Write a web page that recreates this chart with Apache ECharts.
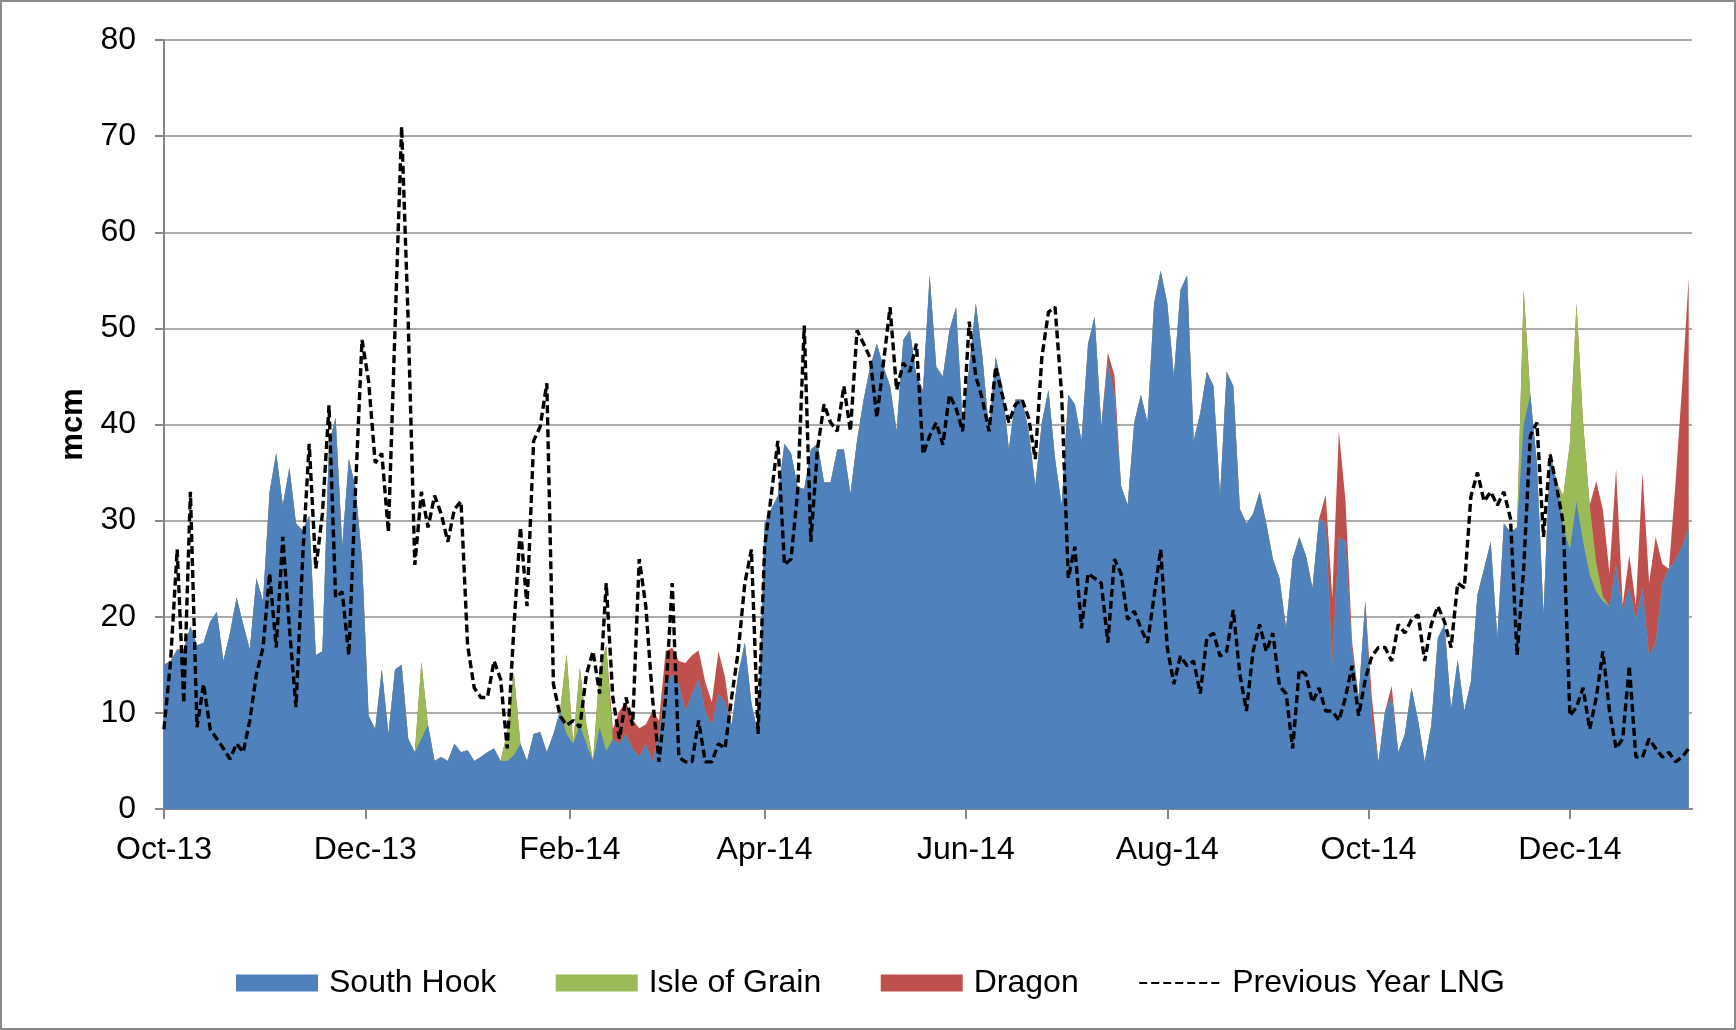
<!DOCTYPE html>
<html>
<head>
<meta charset="utf-8">
<title>LNG terminals - daily flows</title>
<script src="https://cdn.jsdelivr.net/npm/echarts@6/dist/echarts.min.js"></script>
<style>
  html, body { margin: 0; padding: 0; background: #fff; }
  #chart { width: 1736px; height: 1030px; }
</style>
</head>
<body>
<div id="chart"></div>
<script>
// one reading every 2 days, day 0 = 1 Oct 2013
const dayStep = 2;
const tickDays = [0, 61, 123, 182, 243, 304, 365, 426];
const tickLabels = ['Oct-13', 'Dec-13', 'Feb-14', 'Apr-14', 'Jun-14', 'Aug-14', 'Oct-14', 'Dec-14'];

const southHook = [
  15, 15.4, 16.6, 16.6, 19, 17, 17.3, 19.5, 20.5, 15.4,
  18.3, 22, 19.2, 16.6, 24, 21.6, 33, 37, 31.6, 35.5,
  29.7, 29, 30.5, 16, 16.4, 38, 40.7, 27.3, 36.4, 33.5,
  26, 9.7, 8.3, 14.5, 7.8, 14.5, 15, 7.3, 5.9, 7.3,
  8.7, 5, 5.4, 5, 6.8, 5.9, 6.1, 5, 5.4, 5.9,
  6.3, 5, 5, 5.6, 6.8, 5, 7.8, 8, 5.9, 7.8,
  10.2, 7.8, 6.8, 8.7, 6.8, 5, 8.5, 6, 7.3, 6.8,
  7.8, 6.3, 5.4, 6.8, 5, 7.8, 13, 14, 13, 10.2,
  12, 13.5, 10.2, 8.7, 12, 11.1, 8.7, 14, 17.3, 11,
  7.8, 29.7, 31.2, 32.6, 38, 37, 33.5, 33.3, 37.4, 38,
  34, 34, 37.4, 37.4, 32.8, 38.3, 42.6, 46, 48.4, 46,
  44, 39.3, 48.8, 49.8, 45, 43.6, 55.5, 46, 45, 49.8,
  52.2, 40.2, 46, 52.6, 47, 39.3, 47, 44, 37.4, 42.6,
  42.6, 39.3, 33.6, 40.2, 43.6, 36.4, 31.6, 43.1, 42.1, 38.3,
  48.4, 51.2, 39.8, 46.5, 43.1, 33.6, 31.6, 40.2, 43.1, 40.2,
  52.6, 56, 52.6, 45, 54, 55.5, 38.3, 41.2, 45.5, 44,
  32.6, 45.5, 44, 31.2, 29.7, 30.7, 33, 29.7, 26, 24,
  18.8, 26, 28.3, 26.4, 23, 30.2, 29.7, 15, 28.3, 27.8,
  16.4, 11.6, 21.6, 9.2, 4.9, 10.2, 11.6, 5.9, 7.8, 12.6,
  9.2, 4.9, 8.7, 17.8, 19.2, 10.4, 15.5, 10.2, 13.2, 22.3,
  25, 27.8, 17.8, 29.7, 28.8, 29.3, 40, 43.1, 36, 20.2,
  36.9, 34, 29.3, 27, 32, 27.8, 24.4, 22.6, 21.6, 21.1,
  25.4, 20.7, 23, 19.7, 23, 15.9, 17.3, 23.5, 25, 25.9,
  27.3, 29.3
];

const isleOfGrain = [
  0, 0, 0, 0, 0, 0, 0, 0, 0, 0,
  0, 0, 0, 0, 0, 0, 0, 0, 0, 0,
  0, 0, 0, 0, 0, 0, 0, 0, 0, 0,
  0, 0, 0, 0, 0, 0, 0, 0, 0, 8,
  0, 0, 0, 0, 0, 0, 0, 0, 0, 0,
  0, 0, 3, 8.6, 0, 0, 0, 0, 0, 0,
  0, 8.3, 0, 6, 2, 0, 6, 11, 0, 0,
  0, 0, 0, 0, 0, 0, 0, 0, 0, 0,
  0, 0, 0, 0, 0, 0, 0, 0, 0, 0,
  0, 0, 0, 0, 0, 0, 0, 0, 0, 0,
  0, 0, 0, 0, 0, 0, 0, 0, 0, 0,
  0, 0, 0, 0, 0, 0, 0, 0, 0, 0,
  0, 0, 0, 0, 0, 0, 0, 0, 0, 0,
  0, 0, 0, 0, 0, 0, 0, 0, 0, 0,
  0, 0, 0, 0, 0, 0, 0, 0, 0, 0,
  0, 0, 0, 0, 0, 0, 0, 0, 0, 0,
  0, 0, 0, 0, 0, 0, 0, 0, 0, 0,
  0, 0, 0, 0, 0, 0, 0, 0, 0, 0,
  0, 0, 0, 0, 0, 0, 0, 0, 0, 0,
  0, 0, 0, 0, 0, 0, 0, 0, 0, 0,
  0, 0, 0, 0, 0, 0, 14, 0, 0, 0,
  0.3, 0, 3.3, 11, 20.6, 12.4, 7.2, 3, 0.5, 0,
  0, 0, 0, 0, 0, 0, 0, 0, 0, 0,
  0, 0
];

const dragon = [
  0, 0, 0, 0, 0, 0, 0, 0, 0, 0,
  0, 0, 0, 0, 0, 0, 0, 0, 0, 0,
  0, 0, 0, 0, 0, 0, 0, 0, 0, 0,
  0, 0, 0, 0, 0, 0, 0, 0, 0, 0,
  0, 0, 0, 0, 0, 0, 0, 0, 0, 0,
  0, 0, 0, 0, 0, 0, 0, 0, 0, 0,
  0, 0, 0, 0, 0, 0, 0, 0, 1, 3.4,
  3.3, 3, 3, 2, 5.2, 1.4, 3.4, 2.8, 2.4, 5,
  4, 3, 3, 2.4, 4.4, 2.6, 0, 0, 0, 0,
  0, 0, 0, 0, 0, 0, 0, 0, 0, 0,
  0, 0, 0, 0, 0, 0, 0, 0, 0, 0,
  0, 0, 0, 0, 0, 0, 0, 0, 0, 0,
  0, 0, 0, 0, 0, 0, 0, 0, 0, 0,
  0, 0, 0, 0, 0, 0, 0, 0, 0, 0,
  0, 0, 0, 1, 2, 0, 0, 0, 0, 0,
  0, 0, 0, 0, 0, 0, 0, 0, 0, 0,
  0, 0, 0, 0, 0, 0, 0, 0, 0, 0,
  0, 0, 0, 0, 0, 0, 3, 7, 11, 4.3,
  1, 0, 0, 2.4, 0, 0, 1.2, 0, 0, 0,
  0, 0, 0, 0, 0, 0, 0, 0, 0, 0,
  0, 0, 0, 0, 0, 0, 0, 0, 0, 0,
  0, 0, 0, 0, 0, 0, 0, 8.5, 9, 3.4,
  10, 0.5, 3.4, 1.5, 12, 7.6, 11, 2, 0, 8,
  16.7, 26
];

const previousYear = [
  8.3, 15.4, 27, 11, 33, 8.5, 13, 8.3, 7.3, 6.3,
  5.2, 6.8, 5.9, 9.2, 14, 16.8, 24.5, 16.8, 28.3, 18.8,
  10.6, 26, 38, 25, 30.7, 42, 22, 22.6, 16, 33,
  48.8, 44.5, 36, 37, 28.8, 50, 71, 50.7, 25.4, 33,
  29.3, 32.6, 30.7, 27.8, 31.2, 32, 17, 12.6, 11.6, 11.6,
  15.4, 13.5, 6.3, 18.8, 29.3, 21.1, 38.3, 39.8, 44.3, 13,
  9.7, 8.7, 9.2, 8.5, 14, 16.4, 12, 23.5, 11.6, 7.3,
  11.6, 8.7, 26, 21.1, 11.6, 4.9, 11.6, 23.5, 5.4, 4.9,
  4.9, 9.2, 4.9, 4.9, 6.8, 6.3, 11.6, 16.4, 23.5, 27,
  7.8, 27.3, 32.6, 38.3, 25.4, 26, 33, 50.3, 27.8, 37.4,
  42.1, 40.2, 39.3, 44, 39.3, 49.8, 48.4, 46.9, 40.7, 46.4,
  52.2, 43.6, 46.4, 45.5, 48.4, 36.9, 38.8, 40.2, 37.9, 43.1,
  41.7, 39.3, 50.7, 45, 42.6, 39.3, 46, 43.1, 40.2, 42.1,
  42.6, 40.7, 36.4, 47, 51.7, 52.2, 43.1, 24, 27.3, 18.8,
  24.5, 24, 23.5, 17.3, 26, 24.5, 19.7, 20.6, 18.8, 17.3,
  22.1, 27, 16.8, 13, 15.9, 14.9, 15.4, 12, 17.8, 18.3,
  15.9, 16.4, 20.7, 14, 10.2, 16.4, 19.2, 16.4, 18.3, 12.8,
  12, 6.3, 14.5, 14, 11.1, 12.6, 10.2, 10.2, 9.2, 11.6,
  14.9, 9.7, 13.5, 15.9, 16.8, 16.8, 15.4, 19.2, 18.3, 19.7,
  20.2, 15.4, 19.2, 21.1, 19.5, 16.8, 23.5, 23, 32.5, 35,
  32, 33, 31.6, 33, 30.2, 16, 25, 38.8, 40.2, 28.3,
  36.9, 33.5, 29.7, 9.7, 10.6, 12.6, 8.3, 11.6, 16.4, 10.2,
  6.3, 7.3, 14.9, 5.4, 5.4, 7.3, 6.3, 5.4, 5.9, 4.9,
  5.4, 6.3
];

const font = '"Liberation Sans", Arial, sans-serif';
const axisGrey = '#868686';

// running totals so each terminal sits on top of the ones below it
const grainTop = southHook.map((v, i) => v + isleOfGrain[i]);
const dragonTop = grainTop.map((v, i) => v + dragon[i]);

function toPoints(values) {
  return values.map((v, i) => [i * dayStep, v]);
}

// areas drawn from zero, back to front: Dragon total, Grain total, South Hook
function areaSeries(name, color, values) {
  return {
    name: name,
    type: 'line',
    color: color,
    data: toPoints(values),
    symbol: 'none',
    showSymbol: false,
    lineStyle: { width: 0 },
    areaStyle: { color: color, opacity: 1 },
    emphasis: { disabled: true }
  };
}

const chart = echarts.init(document.getElementById('chart'));

chart.setOption({
  animation: false,
  backgroundColor: '#fff',
  textStyle: { fontFamily: font },
  graphic: [{
    type: 'rect',
    shape: { x: 1, y: 1, width: 1734, height: 1028 },
    style: { fill: 'none', stroke: '#8a8a8a', lineWidth: 2 },
    silent: true
  }],
  grid: { left: 164, right: 44, top: 40, bottom: 221, containLabel: false, outerBoundsMode: 'none' },
  legend: {
    left: 231,
    top: 962,
    itemWidth: 82,
    itemHeight: 17,
    itemGap: 59.5,
    textStyle: { fontSize: 32, fontFamily: font, color: '#000', padding: [0, 0, 0, 6] },
    data: [
      { name: 'South Hook', icon: 'rect' },
      { name: 'Isle of Grain', icon: 'rect' },
      { name: 'Dragon', icon: 'rect' },
      { name: 'Previous Year LNG', itemStyle: { opacity: 0 } }
    ]
  },
  xAxis: {
    type: 'value',
    min: 0,
    max: 463,
    splitLine: { show: false },
    axisLine: { show: true, onZero: false, lineStyle: { color: axisGrey, width: 2 } },
    axisTick: { show: true, length: 10, customValues: tickDays, lineStyle: { color: axisGrey, width: 2 } },
    axisLabel: {
      customValues: tickDays,
      margin: 25,
      fontSize: 32,
      fontFamily: font,
      color: '#000',
      formatter: function (v) {
        const k = tickDays.indexOf(v);
        return k >= 0 ? tickLabels[k] : '';
      }
    }
  },
  yAxis: {
    type: 'value',
    min: 0,
    max: 80,
    interval: 10,
    name: 'mcm',
    nameLocation: 'middle',
    nameGap: 75,
    nameTextStyle: { fontSize: 31, fontWeight: 'bold', fontFamily: font, color: '#000' },
    axisLine: { show: true, lineStyle: { color: axisGrey, width: 2 } },
    axisTick: { show: true, length: 9, lineStyle: { color: axisGrey, width: 2 } },
    axisLabel: { margin: 28, fontSize: 32, fontFamily: font, color: '#000' },
    splitLine: { show: true, lineStyle: { color: '#8e8e8e', width: 1.5 } }
  },
  series: [
    areaSeries('Dragon', '#C0504D', dragonTop),
    areaSeries('Isle of Grain', '#9BBB59', grainTop),
    areaSeries('South Hook', '#4F81BD', southHook),
    {
      name: 'Previous Year LNG',
      type: 'line',
      color: '#000',
      data: toPoints(previousYear),
      symbol: 'none',
      showSymbol: false,
      z: 5,
      lineStyle: { color: '#000', width: 3.4, type: [8, 4] },
      emphasis: { disabled: true }
    }
  ]
});
</script>
</body>
</html>
